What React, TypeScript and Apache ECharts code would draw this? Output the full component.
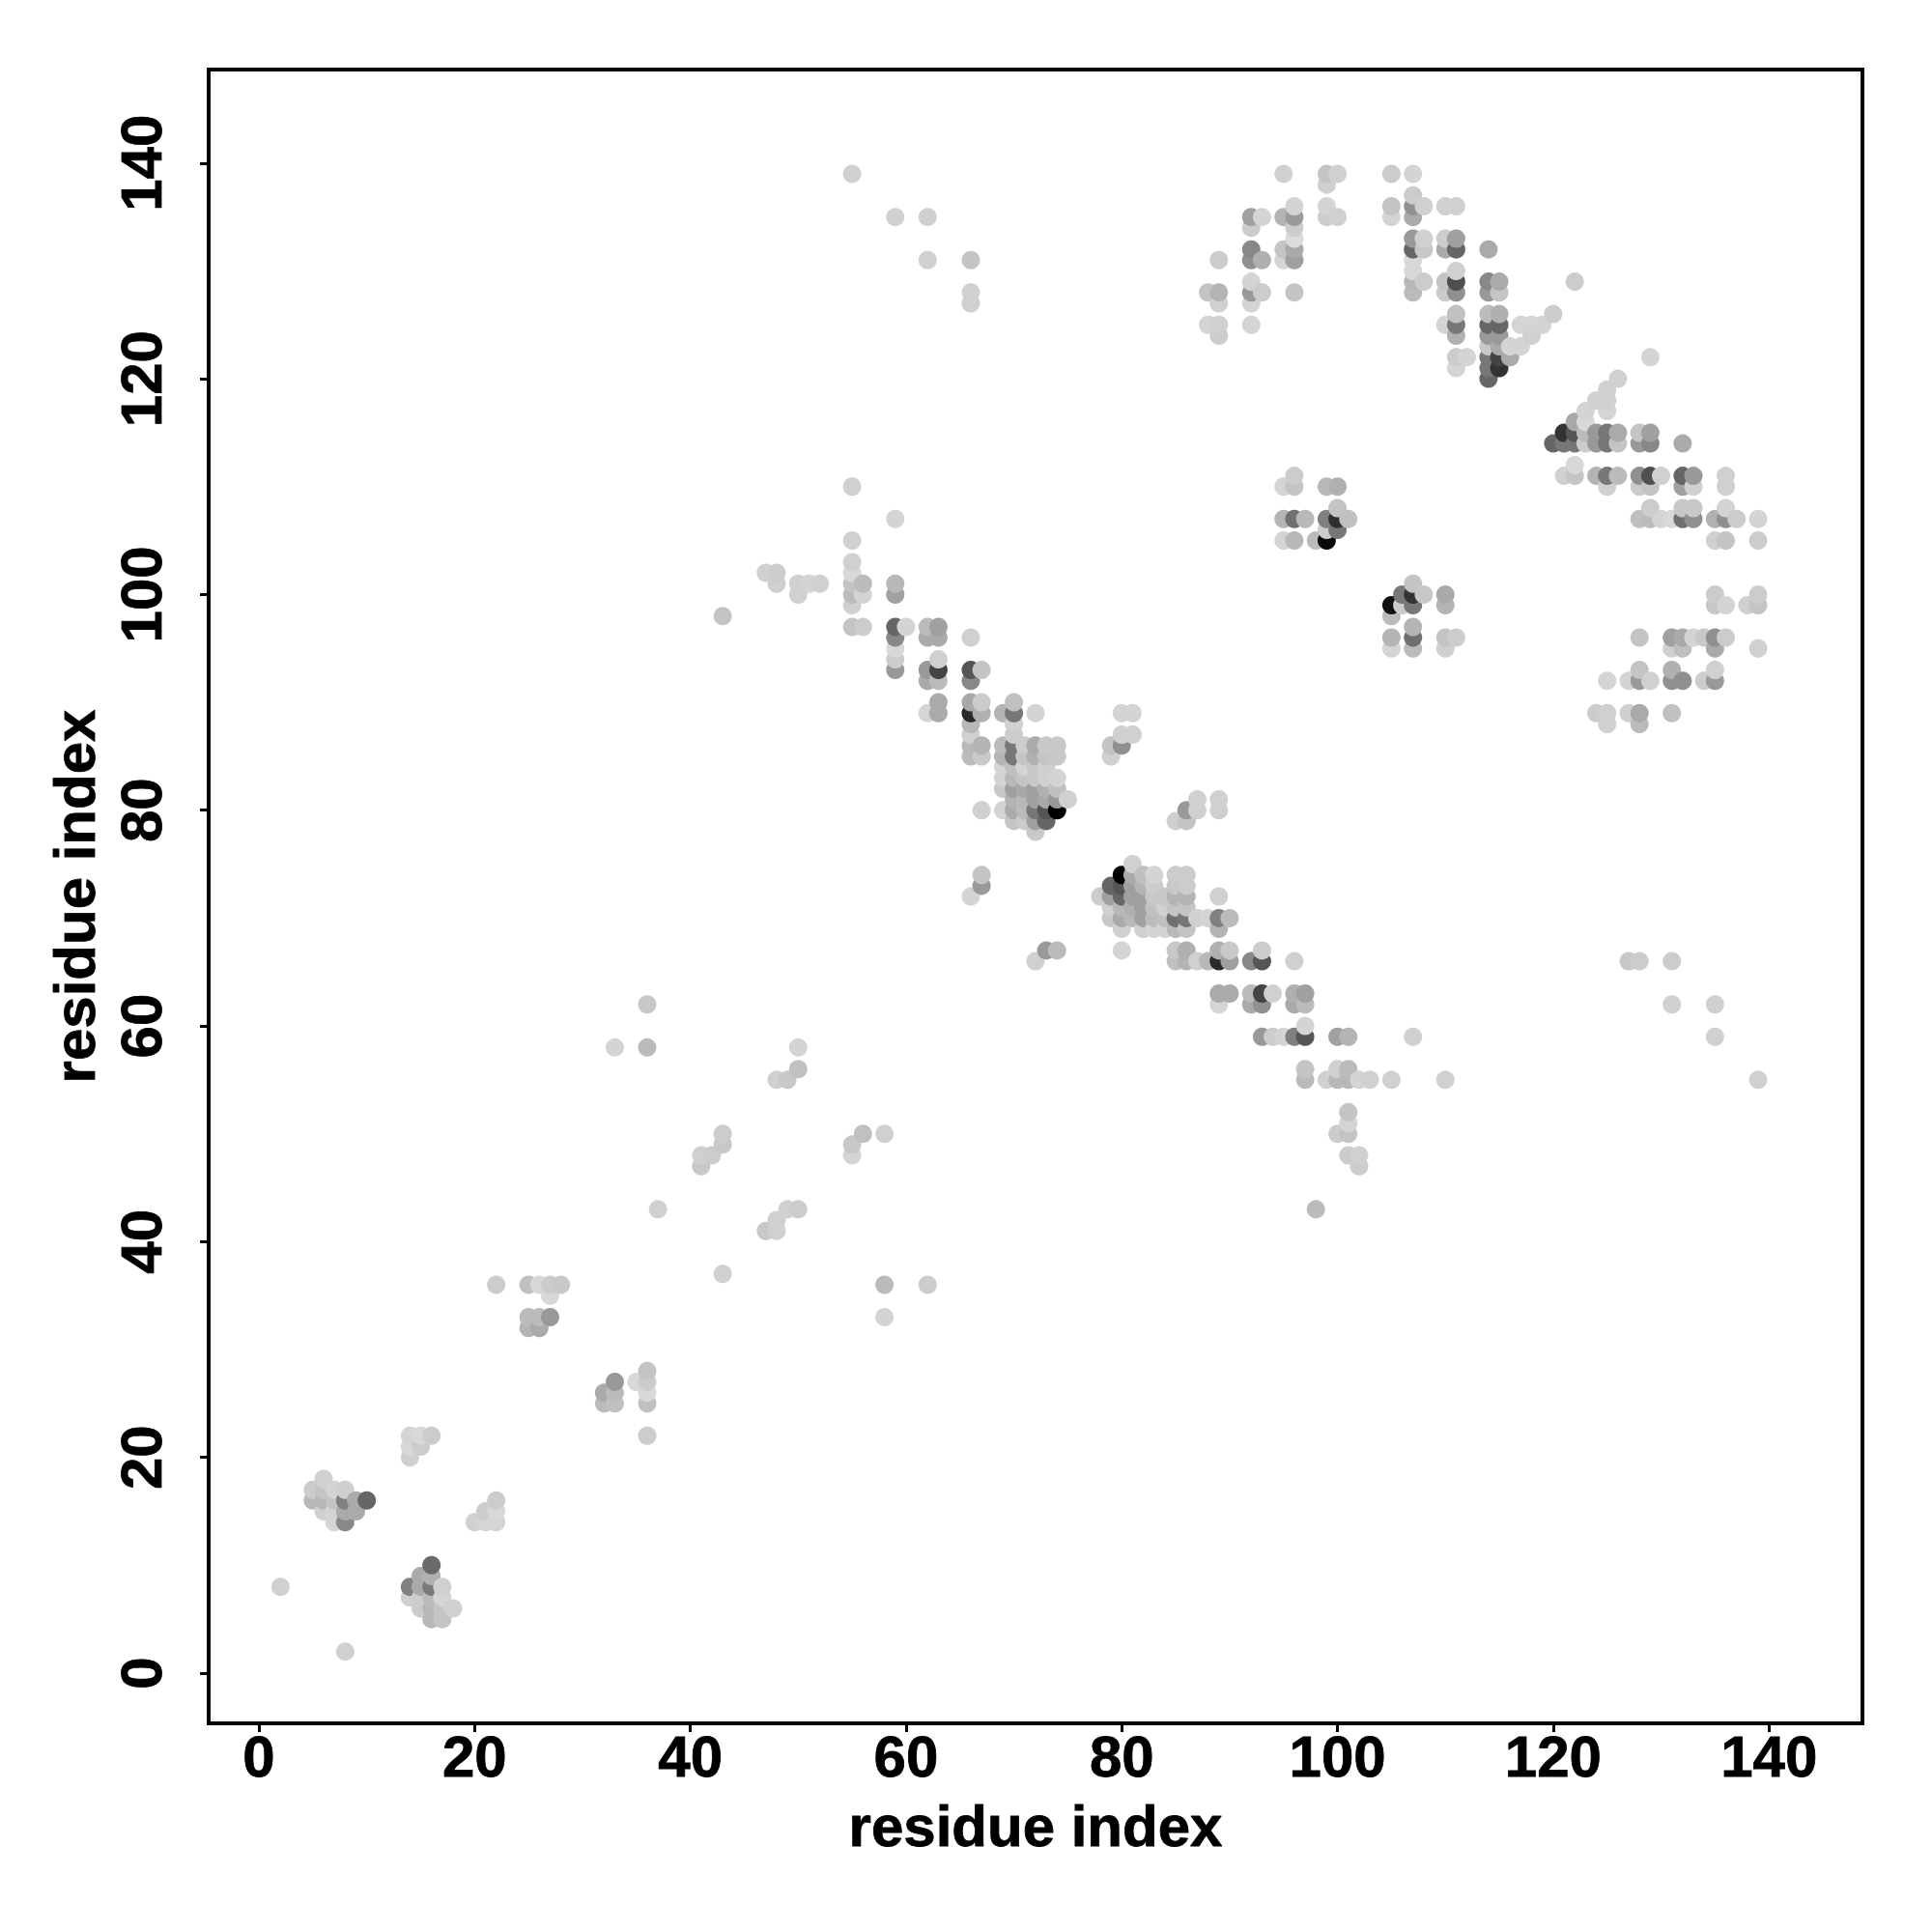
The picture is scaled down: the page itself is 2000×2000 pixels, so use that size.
import React, { useEffect, useRef } from "react";
import * as echarts from "echarts";

type P = [number, number, number];

const tickValues = [0, 20, 40, 60, 80, 100, 120, 140];
const axisTitle = "residue index";

const lowLeft: P[] = [
  [2,8,0xd0],[8,2,0xd0],[16,10,0x6a],[15,9,0xaa],[16,9,0xb0],[14,8,0x80],[15,8,0xaa],[16,8,0x7a],[17,8,0xd0],
  [14,7,0xd0],[15,7,0xcc],[16,7,0xbb],[17,7,0xd5],[15,6,0xcc],[16,6,0xb8],[17,6,0xc4],[18,6,0xd0],[16,5,0xb8],[17,5,0xc4],
  [6,18,0xd0],[5,17,0xcc],[6,17,0xc4],[7,17,0xd4],[8,17,0xcf],[5,16,0xb8],[6,16,0xb8],[7,16,0xc4],[8,16,0x80],[9,16,0xaa],[10,16,0x66],
  [6,15,0xd0],[7,15,0xd4],[8,15,0xaa],[9,15,0xaa],[7,14,0xd4],[8,14,0x88],
  [22,16,0xcc],[21,15,0xcc],[22,15,0xd8],[20,14,0xd0],[21,14,0xd4],[22,14,0xd4],
  [14,22,0xd4],[15,22,0xd8],[16,22,0xcc],[14,21,0xd8],[15,21,0xcc],[14,20,0xd0],
  [33,27,0x99],[32,26,0xaa],[33,26,0xbb],[32,25,0xbb],[33,25,0xc0],[35,27,0xd8],[36,28,0xc4],[36,27,0xcc],[36,26,0xd8],[36,25,0xc0],[36,22,0xcc],
  [22,36,0xcc],[25,36,0xc0],[26,36,0xd8],[27,36,0xcc],[28,36,0xc8],[27,35,0xd8],[25,33,0xbb],[26,33,0xbb],[27,33,0x99],[25,32,0xb4],[26,32,0xaa],
];

const lowMiddle: P[] = [
  [43,37,0xd0],[36,62,0xc8],[33,58,0xd4],[36,58,0xbb],[50,58,0xd4],[50,56,0xc0],[49,55,0xc8],[48,55,0xd0],
  [43,50,0xcc],[43,49,0xc8],[42,48,0xcc],[41,48,0xd0],[41,47,0xc8],[56,50,0xc0],[58,50,0xd0],[55,49,0xc8],[55,48,0xd4],
  [37,43,0xd0],[50,43,0xcc],[49,43,0xd0],[48,42,0xd0],[48,41,0xd0],[47,41,0xc8],[58,36,0xbb],[62,36,0xcc],[58,33,0xd4],
];

const helixB: P[] = [
  [81,75,0xd0],[80,74,0x00],[79,73,0x66],[80,73,0x55],[81,74,0xaa],[82,74,0xc0],[83,74,0xd4],[85,74,0xcc],[86,74,0xcc],
  [81,73,0xa0],[82,73,0xb4],[83,73,0xcc],[85,73,0xc8],[86,73,0xcc],
  [78,72,0xcc],[79,72,0xa0],[80,72,0x66],[81,72,0xa0],[82,72,0xa0],[83,72,0xc8],[84,72,0xc8],[85,72,0xb4],[86,72,0xb4],[89,72,0xd0],
  [79,71,0xd0],[80,71,0xb8],[81,71,0xb0],[82,71,0xa0],[83,71,0xc0],[84,71,0xd0],[85,71,0xc4],[86,71,0xc4],
  [79,70,0xc8],[80,70,0xaa],[81,70,0xb8],[82,70,0xa0],[83,70,0xbb],[84,70,0xc0],[85,70,0x70],[86,70,0x77],[87,70,0xd0],[88,70,0xd4],[89,70,0x80],[90,70,0xbb],
  [80,69,0xd0],[82,69,0xd0],[83,69,0xd4],[84,69,0xd4],[85,69,0xb8],[86,69,0xc4],[89,69,0xb4],
  [80,67,0xd4],[85,67,0xc8],[86,67,0xb0],[89,67,0xb0],[90,67,0xc8],[93,67,0xcc],
  [85,66,0xc0],[86,66,0xb4],[87,66,0xd0],[88,66,0xb8],[89,66,0x2a],[90,66,0xa0],[92,66,0x88],[93,66,0x55],[96,66,0xd0],
  [89,63,0xaa],[90,63,0xaa],[92,63,0xbb],[93,63,0x44],[94,63,0xd0],[96,63,0xb0],[97,63,0xa0],
  [89,62,0xd4],[92,62,0xaa],[93,62,0x90],[96,62,0xaa],[97,62,0xbb],[97,60,0xd4],
  [93,59,0x99],[94,59,0xcc],[95,59,0xd4],[96,59,0x80],[97,59,0x55],[100,59,0xa0],[101,59,0xb4],[107,59,0xd0],
  [97,56,0xc4],[100,56,0xd0],[101,56,0xbb],
  [97,55,0xbb],[99,55,0xd0],[100,55,0xb8],[101,55,0xb8],[102,55,0xd4],[103,55,0xd0],[105,55,0xd0],[110,55,0xd0],
  [101,52,0xc4],[101,51,0xd4],[100,50,0xcc],[101,50,0xc4],[101,48,0xcc],[102,48,0xd0],[102,47,0xcc],[98,43,0xbb],
  [73,67,0x99],[74,67,0xbb],[72,66,0xd0],[67,74,0xc4],[67,73,0x99],[66,72,0xd4],
  [80,89,0xd4],[81,89,0xd4],[80,87,0xd0],[81,87,0xd0],[79,86,0xc4],[80,86,0x90],[79,85,0xd0],
  [87,81,0xd0],[89,81,0xd0],[87,80,0xd0],[89,80,0xd0],[86,80,0x99],[85,79,0xd0],[86,79,0xc4],
];

const helixA: P[] = [
  [63,92,0xbb],[66,92,0x88],[63,90,0xaa],[66,90,0xa8],[67,90,0xcc],[63,89,0xaa],[66,89,0x2a],[67,89,0xb0],[69,89,0xb4],[70,90,0xc0],[70,89,0x77],[72,89,0xd4],
  [66,88,0xb8],[66,87,0xd0],[66,86,0xb8],[66,85,0xbb],[67,86,0xb4],[67,85,0xc8],[69,86,0xbb],[69,85,0xb4],
  [70,88,0xd0],[70,87,0xcc],[70,86,0x77],[70,85,0x77],[71,86,0xcc],[71,85,0xc4],[72,86,0xaa],[72,85,0xb0],[73,86,0xc8],[73,85,0xc4],[74,86,0xc8],[74,85,0xc8],
  [69,84,0xd4],[69,83,0xd4],[69,82,0xc8],[69,80,0xd4],[67,80,0xd0],
  [70,84,0xc0],[70,83,0xb8],[70,82,0xa0],[70,81,0xb4],[70,80,0xaa],[70,79,0xc4],
  [71,84,0xd4],[71,83,0xc4],[71,82,0xa8],[71,81,0xb8],[71,80,0xbb],[71,79,0xcc],
  [72,84,0xc8],[72,83,0xc8],[72,82,0xa0],[72,81,0xa0],[72,80,0x77],[72,79,0xa0],[72,78,0xc8],
  [73,84,0xd0],[73,83,0xd0],[73,82,0xb0],[73,81,0xa8],[73,80,0x55],[73,79,0x66],
  [74,83,0xd4],[74,82,0xc0],[74,81,0x99],[74,80,0x00],[75,81,0xd0],
  [55,110,0xd0],[59,107,0xd4],[55,105,0xd0],[55,103,0xd0],[55,102,0xd8],[55,101,0xc4],[56,101,0xbb],[55,100,0xbb],[56,100,0xd4],[55,99,0xd0],[55,97,0xc4],[56,97,0xcc],
  [59,101,0xb8],[59,100,0xa0],[59,97,0x66],[60,97,0xd4],[59,96,0x88],[59,95,0xd8],[59,94,0xcc],[59,93,0x99],
  [62,97,0xbb],[63,97,0xa0],[62,96,0xaa],[63,96,0xaa],[66,96,0xd0],[63,94,0xd0],[62,93,0x99],[63,93,0x44],[62,92,0xaa],
  [66,93,0x55],[67,93,0xc4],[62,89,0xd4],
  [47,102,0xd0],[48,102,0xcc],[48,101,0xd0],[50,101,0xd0],[50,100,0xd0],[51,101,0xd4],[52,101,0xd0],[43,98,0xc4],
];

const topMiddle: P[] = [
  [55,139,0xd0],[59,135,0xd0],[62,135,0xd0],[62,131,0xd0],[66,131,0xc4],[66,128,0xd0],[66,127,0xd0],
  [95,139,0xd0],[99,139,0xc4],[100,139,0xd0],[99,138,0xd0],[105,139,0xcc],[107,139,0xd4],[107,137,0xcc],
  [105,136,0xc4],[107,136,0x90],[108,136,0xd0],[110,136,0xd0],[111,136,0xd0],[105,135,0xd4],[107,135,0xaa],
  [99,136,0xd4],[99,135,0xcc],[100,135,0xd0],[92,135,0xa0],[93,135,0xd4],[92,134,0xcc],
  [95,135,0xb4],[96,136,0xd4],[96,135,0x99],[96,134,0xcc],[96,133,0xdc],[95,132,0xc4],[96,132,0xaa],[95,131,0xd4],[96,131,0xa0],
  [92,132,0x88],[92,131,0x90],[93,131,0xb0],[89,131,0xcc],[92,129,0xd4],[92,128,0x99],[93,128,0xcc],[92,127,0xd4],[96,128,0xc4],
  [88,128,0xc4],[89,128,0xb4],[89,127,0xd0],[88,125,0xd4],[89,125,0xd0],[89,124,0xcc],[92,125,0xd4],
];

const topRight: P[] = [
  [107,133,0x99],[107,132,0x66],[107,131,0xd8],[107,130,0xd8],[107,129,0xb8],[107,128,0xbb],
  [108,133,0xd0],[108,132,0xc8],[108,129,0xcc],[110,133,0xcc],[110,132,0xaa],[110,129,0xc4],[110,128,0xcc],[110,125,0xd4],
  [111,133,0xa0],[111,132,0x66],[111,130,0xd0],[111,129,0x4f],[111,128,0x90],[111,126,0xc0],[111,125,0x77],[111,124,0xb0],[111,122,0xcc],[111,121,0xd4],[112,122,0xd4],
  [114,132,0xaa],[114,129,0x88],[114,128,0x99],[114,126,0xbb],[114,125,0x66],[114,124,0x99],[114,123,0xc8],[114,122,0x77],[114,121,0x77],[114,120,0x66],
  [115,129,0xaa],[115,128,0xc4],[115,126,0xb0],[115,125,0x66],[115,124,0x99],[115,123,0xaa],[115,122,0x44],[115,121,0x33],
  [116,123,0xd4],[116,122,0xaa],[117,125,0xd4],[117,123,0xd4],[118,125,0xd4],[118,124,0xd0],[119,125,0xd4],[120,126,0xcc],[122,129,0xcc],
];

const strandC: P[] = [
  [129,122,0xd4],[126,120,0xd0],[125,119,0xd0],[124,118,0xd0],[125,118,0xd0],[123,117,0xd4],[125,117,0xd4],[123,116,0xd8],[122,116,0xa8],
  [121,115,0x33],[122,115,0x55],[123,115,0xbb],[124,115,0x99],[125,115,0x77],[126,115,0xaa],[128,115,0xc4],[129,115,0xa0],
  [120,114,0x66],[121,114,0x77],[122,114,0x77],[123,114,0xcc],[124,114,0x99],[125,114,0x77],[126,114,0xc4],[128,114,0x99],[129,114,0x88],[132,114,0xaa],
  [122,112,0xd8],[121,111,0xd0],[122,111,0xc4],[124,111,0xb4],[125,111,0x77],[126,111,0xbb],[128,111,0x90],[129,111,0x4f],[130,111,0xd0],[132,111,0x66],[133,111,0x99],[136,111,0xd0],
  [125,110,0xd0],[128,110,0xcc],[129,110,0xc4],[132,110,0xa0],[133,110,0xd0],[136,110,0xd0],
  [129,108,0xcc],[132,108,0xc8],[133,108,0xc8],[136,108,0xd4],
  [128,107,0xc0],[129,107,0xbb],[130,107,0xd4],[131,107,0xd8],[132,107,0x70],[133,107,0x90],[135,107,0xb0],[136,107,0x90],[137,107,0xcc],[139,107,0xd4],
  [135,105,0xd0],[136,105,0xc4],[139,105,0xcc],[135,100,0xcc],[139,100,0xcc],[135,99,0xc8],[136,99,0xd4],[138,99,0xd0],[139,99,0xc4],
  [128,96,0xc4],[131,96,0xa0],[132,96,0xaa],[133,96,0xd4],[134,96,0xc8],[135,96,0x90],[136,96,0xcc],
  [131,95,0xd0],[132,95,0xc0],[135,95,0xaa],[139,95,0xd0],[128,93,0xc4],[131,93,0xb0],[135,93,0xd0],
  [125,92,0xd4],[127,92,0xd4],[128,92,0x99],[129,92,0xd0],[131,92,0x90],[132,92,0x90],[134,92,0xcc],[135,92,0x99],
  [124,89,0xcc],[125,89,0xd0],[127,89,0xd0],[128,89,0xaa],[131,89,0xc0],[125,88,0xd0],[128,88,0xbb],
  [127,66,0xc8],[128,66,0xcc],[131,66,0xcc],[131,62,0xd0],[135,62,0xd0],[135,59,0xd0],[139,55,0xd0],
];

const middleIslands: P[] = [
  [96,111,0xcc],[95,110,0xd4],[96,110,0xc4],[99,110,0xb8],[100,110,0xb0],[100,108,0xc4],
  [95,107,0xb4],[96,107,0x70],[97,107,0xb8],[99,107,0x80],[100,107,0x2f],[101,107,0xc0],[99,106,0xcc],[100,106,0x77],
  [95,105,0xd4],[96,105,0xb8],[98,105,0xbb],[99,105,0x08],
  [107,101,0xc4],[106,100,0x77],[107,100,0x33],[108,100,0xc8],[110,100,0xaa],[105,99,0x11],[106,99,0xcc],[107,99,0x77],[110,99,0xb4],
  [105,98,0xbb],[107,97,0xb4],[105,96,0xb4],[107,96,0x70],[110,96,0xc4],[111,96,0xcc],[105,95,0xd4],[107,95,0xbb],[110,95,0xd0],
];

const contacts: P[] = [...lowLeft, ...lowMiddle, ...helixB, ...helixA, ...topMiddle, ...topRight, ...strandC, ...middleIslands]
  .slice()
  .sort((a, b) => a[0] - b[0] || a[1] - b[1]);

const FONT = "Liberation Sans";

export default function App() {
  const ref = useRef<HTMLDivElement>(null);
  useEffect(() => {
    if (!ref.current) return;
    const chart = echarts.init(ref.current, undefined, { renderer: "svg" });
    const axisBase = {
      type: "value",
      min: -4.66,
      max: 148.67,
      name: axisTitle,
      nameLocation: "middle",
      nameTextStyle: { fontFamily: FONT, fontWeight: "bold", fontSize: 60, color: "#000", textBorderColor: "#000", textBorderWidth: 0.8 },
      axisLine: { show: false, onZero: false },
      splitLine: { show: false },
      axisTick: { show: true, length: 9, customValues: tickValues, lineStyle: { color: "#000", width: 3 } },
    };
    const labelBase = { customValues: tickValues, fontFamily: FONT, fontWeight: "bold", fontSize: 60, color: "#000", textBorderColor: "#000", textBorderWidth: 0.8, showMinLabel: true, showMaxLabel: true, hideOverlap: false };
    chart.setOption({
      animation: false,
      backgroundColor: "#fff",
      grid: { show: true, left: 216, top: 72, width: 1712, height: 1712, borderColor: "#000", borderWidth: 4, backgroundColor: "transparent", containLabel: false },
      xAxis: { ...axisBase, nameGap: 76, axisLabel: { ...labelBase, margin: 4 } },
      yAxis: { ...axisBase, nameGap: 108, nameRotate: 90, axisLabel: { ...labelBase, rotate: 90, margin: 40 } },
      series: [{
        type: "scatter",
        symbol: "circle",
        symbolSize: 19,
        silent: true,
        progressive: 0,
        large: false,
        itemStyle: {
          opacity: 1,
          color: (p: any) => { const g = p.value[2]; return `rgb(${g},${g},${g})`; },
        },
        data: contacts,
      }],
    });
    return () => chart.dispose();
  }, []);
  return <div ref={ref} style={{ position: "absolute", left: 0, top: 0, width: 2000, height: 2000, background: "#fff" }} />;
}
